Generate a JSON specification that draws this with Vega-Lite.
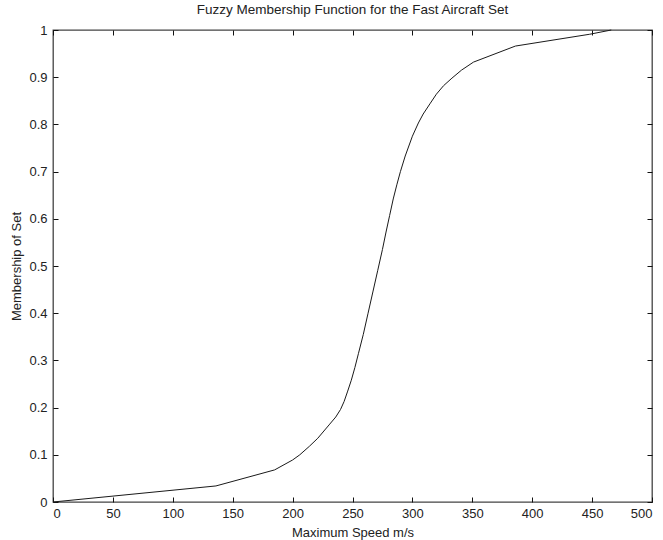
{
  "$schema": "https://vega.github.io/schema/vega-lite/v6.json",
  "width": 599,
  "height": 472,
  "autosize": "none",
  "padding": {"left": 53, "top": 30, "right": 11, "bottom": 38},
  "background": "white",
  "title": {
    "text": "Fuzzy Membership Function for the Fast Aircraft Set",
    "fontSize": 13.5,
    "fontWeight": "normal",
    "font": "Liberation Sans",
    "color": "#222",
    "anchor": "middle",
    "offset": 8
  },
  "data": {
    "values": [
      {"speed": 0, "membership": 0},
      {"speed": 136, "membership": 0.034},
      {"speed": 185, "membership": 0.068},
      {"speed": 200, "membership": 0.089},
      {"speed": 206, "membership": 0.1},
      {"speed": 214, "membership": 0.118},
      {"speed": 221, "membership": 0.135},
      {"speed": 231, "membership": 0.165},
      {"speed": 236, "membership": 0.18},
      {"speed": 240, "membership": 0.196},
      {"speed": 243, "membership": 0.213},
      {"speed": 246, "membership": 0.235},
      {"speed": 249, "membership": 0.258},
      {"speed": 252, "membership": 0.285},
      {"speed": 255, "membership": 0.315},
      {"speed": 259, "membership": 0.355},
      {"speed": 263, "membership": 0.4},
      {"speed": 267, "membership": 0.445},
      {"speed": 271, "membership": 0.49},
      {"speed": 275, "membership": 0.535},
      {"speed": 278, "membership": 0.572},
      {"speed": 281, "membership": 0.607},
      {"speed": 284, "membership": 0.642},
      {"speed": 287, "membership": 0.672},
      {"speed": 290, "membership": 0.7},
      {"speed": 294, "membership": 0.733},
      {"speed": 300, "membership": 0.775},
      {"speed": 305, "membership": 0.803},
      {"speed": 309, "membership": 0.822},
      {"speed": 315, "membership": 0.845},
      {"speed": 320, "membership": 0.864},
      {"speed": 326, "membership": 0.882},
      {"speed": 333, "membership": 0.898},
      {"speed": 341, "membership": 0.915},
      {"speed": 351, "membership": 0.932},
      {"speed": 386, "membership": 0.966},
      {"speed": 448, "membership": 0.991},
      {"speed": 466, "membership": 1.0}
    ]
  },
  "layer": [
    {
      "mark": {"type": "line", "color": "#1a1a1a", "strokeWidth": 1, "interpolate": "linear"},
      "encoding": {
        "x": {
          "field": "speed", "type": "quantitative",
          "scale": {"domain": [0, 500], "nice": false, "zero": false},
          "axis": {"values": [0, 50, 100, 150, 200, 250, 300, 350, 400, 450, 500], "title": "Maximum Speed m/s", "orient": "bottom"}
        },
        "y": {
          "field": "membership", "type": "quantitative",
          "scale": {"domain": [0, 1], "nice": false},
          "axis": {"values": [0, 0.1, 0.2, 0.3, 0.4, 0.5, 0.6, 0.7, 0.8, 0.9, 1], "format": ".1~f", "title": "Membership of Set", "orient": "left"}
        }
      }
    },
    {
      "mark": {"type": "line", "opacity": 0},
      "encoding": {
        "x": {
          "field": "speed", "type": "quantitative",
          "scale": {"domain": [0, 500], "nice": false, "zero": false},
          "axis": {"values": [0, 50, 100, 150, 200, 250, 300, 350, 400, 450, 500], "title": null, "orient": "top", "labels": false}
        },
        "y": {
          "field": "membership", "type": "quantitative",
          "scale": {"domain": [0, 1], "nice": false},
          "axis": {"values": [0, 0.1, 0.2, 0.3, 0.4, 0.5, 0.6, 0.7, 0.8, 0.9, 1], "title": null, "orient": "right", "labels": false}
        }
      }
    }
  ],
  "resolve": {"scale": {"x": "independent", "y": "independent"}},
  "config": {
    "view": {"stroke": "#444", "strokeWidth": 1.3},
    "axis": {
      "domain": false,
      "grid": false,
      "tickSize": -5,
      "tickColor": "#111",
      "tickWidth": 1,
      "labelFont": "Liberation Sans",
      "labelFontSize": 13,
      "labelColor": "#222",
      "titleFont": "Liberation Sans",
      "titleFontSize": 13,
      "titleFontWeight": "normal",
      "titleColor": "#222"
    },
    "axisBottom": {"labelPadding": 10, "titlePadding": 6},
    "axisLeft": {"labelPadding": 11, "titlePadding": 5}
  }
}
